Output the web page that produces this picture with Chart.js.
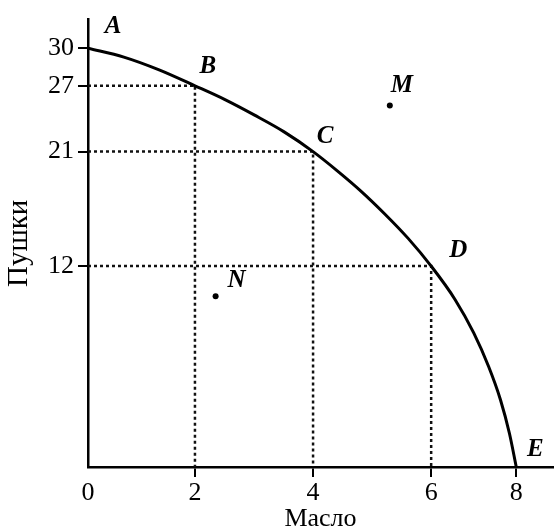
<!DOCTYPE html>
<html>
<head>
<meta charset="utf-8">
<script src="https://cdn.jsdelivr.net/npm/chart.js@4.4.1/dist/chart.umd.min.js"></script>
<style>
  html, body { margin: 0; padding: 0; background: #fff; }
  #wrap { width: 557px; height: 532px; }
</style>
</head>
<body>
<div id="wrap"><canvas id="ppf"></canvas></div>
<script>
// production possibilities: butter (x) vs guns (y)
const butter = [0, 2, 4, 6, 8];
const guns = [30, 27, 21, 12, 0];
const pointNames = ["A", "B", "C", "D", "E"];
const insideM = { name: "M", x: 5.3, y: 25.2 };
const insideN = { name: "N", x: 2.35, y: 10.2 };
const xTicks = [0, 2, 4, 6, 8];
const yTicks = [12, 21, 27, 30];

// frontier (passes through A..E)
const frontierButter = [0, 0.67, 1.33, 2, 2.5, 3.01, 3.51, 4, 4.4, 4.81, 5.21, 5.61, 6, 6.56, 7.0, 7.35, 7.63, 7.84, 8];
const frontierGuns = [30, 29.29, 28.27, 27, 25.76, 24.32, 22.8, 21, 19.53, 17.9, 16.12, 14.18, 12, 10.01, 8.01, 6.0, 4.0, 2.0, 0];

// the book's axes are drawn schematically (not evenly spaced),
// so each axis maps value -> fraction of its length piecewise
const axisStops = {
  x: [[0, 0], [2, 0.230], [4, 0.484], [6, 0.738], [8, 0.921], [8.86, 1]],
  y: [[0, 0], [12, 0.449], [21, 0.705], [27, 0.852], [30, 0.936], [32.3, 1]],
};

class StopScale extends Chart.LinearScale {
  toDecimal(v) {
    const s = axisStops[this.id];
    let i = 1;
    while (i < s.length - 1 && v > s[i][0]) i++;
    const [v0, d0] = s[i - 1], [v1, d1] = s[i];
    return d0 + ((v - v0) / (v1 - v0)) * (d1 - d0);
  }
  getPixelForValue(v) {
    return v === null ? NaN : this.getPixelForDecimal(this.toDecimal(v));
  }
  getValueForPixel(p) {
    const d = this.getDecimalForPixel(p);
    const s = axisStops[this.id];
    let i = 1;
    while (i < s.length - 1 && d > s[i][1]) i++;
    const [v0, d0] = s[i - 1], [v1, d1] = s[i];
    return v0 + ((d - d0) / (d1 - d0)) * (v1 - v0);
  }
}
StopScale.id = "stops";
StopScale.defaults = Chart.LinearScale.defaults;
Chart.register(StopScale);

const frontier = frontierButter.map((x, i) => ({ x, y: frontierGuns[i] }));

// dotted guides from the axes to B, C, D
const guides = [1, 2, 3].map((i) => ({
  data: [
    { x: 0, y: guns[i] },
    { x: butter[i], y: guns[i] },
    { x: butter[i], y: 0 },
  ],
  borderColor: "#111",
  borderWidth: 2.5,
  borderDash: [3, 3],
  pointRadius: 0,
  tension: 0,
  fill: false,
}));

const serif = "'Liberation Serif', 'DejaVu Serif', serif";

const labelOffsets = {
  A: [25, -22], B: [13, -19], C: [12, -15], D: [27, -16],
  E: [19, -17], M: [12, -20], N: [21, -16],
};

const pointLabels = {
  id: "pointLabels",
  afterDatasetsDraw(chart) {
    const { ctx, scales } = chart;
    const marks = butter.map((x, i) => ({ name: pointNames[i], x, y: guns[i] }));
    marks.push(insideM, insideN);
    ctx.save();
    ctx.fillStyle = "#000";
    ctx.font = "italic bold 25px " + serif;
    ctx.textAlign = "center";
    ctx.textBaseline = "middle";
    marks.forEach((m) => {
      const [dx, dy] = labelOffsets[m.name];
      ctx.fillText(m.name, scales.x.getPixelForValue(m.x) + dx, scales.y.getPixelForValue(m.y) + dy);
    });
    ctx.restore();
  },
};

new Chart(document.getElementById("ppf"), {
  type: "line",
  data: {
    datasets: [
      {
        data: frontier,
        borderColor: "#000",
        borderWidth: 3,
        pointRadius: 0,
        cubicInterpolationMode: "monotone",
        fill: false,
      },
      ...guides,
      {
        data: [insideM, insideN].map((p) => ({ x: p.x, y: p.y })),
        showLine: false,
        pointRadius: 3,
        pointBackgroundColor: "#000",
        pointBorderWidth: 0,
      },
    ],
  },
  options: {
    responsive: true,
    maintainAspectRatio: false,
    animation: false,
    events: [],
    layout: { padding: { top: 13, right: 0, left: 0, bottom: 0 } },
    plugins: { legend: { display: false }, tooltip: { enabled: false } },
    scales: {
      x: {
        type: "stops",
        min: 0,
        max: 8.86,
        afterBuildTicks: (s) => { s.ticks = xTicks.map((v) => ({ value: v })); },
        afterFit: (s) => { s.height = 65; },
        border: { color: "#000", width: 2.5 },
        grid: {
          drawOnChartArea: false,
          tickLength: 10,
          lineWidth: 2,
          color: (c) => (c.tick && c.tick.value === 0 ? "rgba(0,0,0,0)" : "#000"),
        },
        ticks: { color: "#000", padding: 1, maxRotation: 0, font: { family: serif, size: 26 } },
        title: {
          display: true,
          text: "Масло",
          color: "#000",
          padding: 0,
          font: { family: serif, size: 26, lineHeight: 1 },
        },
      },
      y: {
        type: "stops",
        min: 0,
        max: 32.3,
        afterBuildTicks: (s) => { s.ticks = yTicks.map((v) => ({ value: v })); },
        afterFit: (s) => { s.width = 88; },
        border: { color: "#000", width: 2.5 },
        grid: { drawOnChartArea: false, tickLength: 10, lineWidth: 2, color: "#000" },
        ticks: { color: "#000", padding: 4, font: { family: serif, size: 26 } },
        title: {
          display: true,
          text: "Пушки",
          color: "#000",
          padding: { top: 5, bottom: 0 },
          font: { family: serif, size: 29, lineHeight: 1 },
        },
      },
    },
  },
  plugins: [pointLabels],
});
</script>
</body>
</html>
